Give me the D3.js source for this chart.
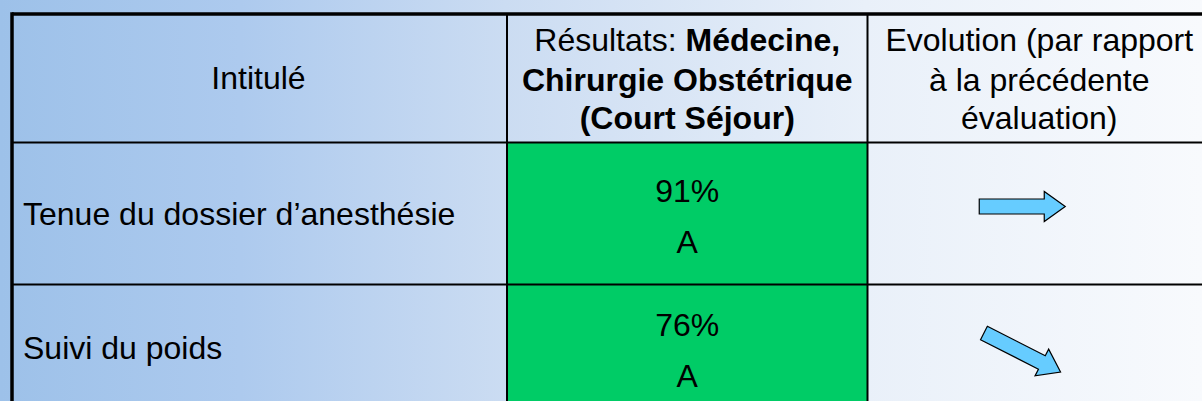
<!DOCTYPE html>
<html>
<head>
<meta charset="utf-8">
<script src="https://cdn.jsdelivr.net/npm/d3@7"></script>
<style>
html,body{margin:0;padding:0;overflow:hidden;background:#fff;}
svg{display:block;}
</style>
</head>
<body>
<script>
// ---- data ----
const headerIntitule = "Intitulé";
const headerResults = [[["Résultats: ", false], ["Médecine,", true]], [["Chirurgie Obstétrique", true]], [["(Court Séjour)", true]]];
const headerEvolution = ["Evolution (par rapport", "à la précédente", "évaluation)"];
const indicators = ["Tenue du dossier d’anesthésie", "Suivi du poids"];
const scores = [91, 76];
const grades = ["A", "A"];
const trendAngles = [0, 27]; // degrees: 0 = stable, positive = downward
const rowHeights = [142, 126];

// ---- layout ----
const W = 1202, H = 401;
const font = "'Liberation Sans', Arial, sans-serif";
const colEdges = [12, 507, 867.5, 1211];
const headerTop = 14, headerBottom = 142.5;

const svg = d3.select("body").append("svg").attr("width", W).attr("height", H);
const defs = svg.append("defs");
const grad = defs.append("linearGradient").attr("id", "bg").attr("x1", 0).attr("x2", 1).attr("y1", 0).attr("y2", 0);
[[0, "#9dc1e9"], [0.2, "#adcaee"], [0.42, "#cbdcf2"], [0.72, "#e9f0f9"], [1, "#f8fafd"]]
  .forEach(([o, c]) => grad.append("stop").attr("offset", o).attr("stop-color", c));
svg.append("rect").attr("width", W).attr("height", H).attr("fill", "url(#bg)");

// row scale (cumulative)
const rowTops = [headerBottom];
rowHeights.forEach((h, i) => rowTops.push(rowTops[i] + h));
const y = i => rowTops[i];
const x = d3.scaleOrdinal().domain([0, 1, 2, 3]).range(colEdges);
const colCenter = c => (x(c) + x(c + 1)) / 2;

// green result cells
svg.selectAll("rect.cell").data(scores).join("rect")
  .attr("class", "cell")
  .attr("x", x(1)).attr("y", (d, i) => y(i))
  .attr("width", x(2) - x(1)).attr("height", (d, i) => rowHeights[i])
  .attr("fill", "#00cc66");

// grid lines
const g = svg.append("g").attr("stroke", "#000").attr("fill", "none");
[1, 2].forEach(c => g.append("line").attr("x1", x(c)).attr("x2", x(c)).attr("y1", headerTop).attr("y2", y(rowHeights.length)).attr("stroke-width", 2));
for (let i = 0; i <= rowHeights.length; i++) {
  if (i === 0 || i < rowHeights.length) g.append("line").attr("x1", x(0)).attr("x2", x(3)).attr("y1", y(i)).attr("y2", y(i)).attr("stroke-width", 2);
}
g.append("line").attr("x1", x(0)).attr("x2", x(3)).attr("y1", headerTop).attr("y2", headerTop).attr("stroke-width", 3.5);
g.append("line").attr("x1", x(0)).attr("x2", x(0)).attr("y1", headerTop - 1.75).attr("y2", y(rowHeights.length)).attr("stroke-width", 3.5);

// header texts
const txt = svg.append("g").attr("font-family", font).attr("font-size", 32).attr("fill", "#000");
txt.append("text").attr("x", colCenter(0) - 1).attr("y", 89).attr("text-anchor", "middle").text(headerIntitule);
const hBase = [51, 90.5, 129];
headerResults.forEach((line, li) => {
  const t = txt.append("text").attr("x", colCenter(1)).attr("y", hBase[li]).attr("text-anchor", "middle");
  line.forEach(([s, b]) => t.append("tspan").attr("font-weight", b ? "bold" : "normal").text(s));
});
headerEvolution.forEach((s, li) => {
  txt.append("text").attr("x", colCenter(2)).attr("y", hBase[li]).attr("text-anchor", "middle").text(s);
});

// rows
indicators.forEach((name, i) => {
  const cy = y(i) + rowHeights[i] / 2;
  txt.append("text").attr("x", 23).attr("y", cy + 11.5).text(name);
  txt.append("text").attr("x", colCenter(1)).attr("y", cy - 12).attr("text-anchor", "middle").text(scores[i] + "%");
  txt.append("text").attr("x", colCenter(1)).attr("y", cy + 39.5).attr("text-anchor", "middle").text(grades[i]);
});

// arrows
const arrowPath = "M-43,-7.5 L22,-7.5 L22,-15 L43,0 L22,15 L22,7.5 L-43,7.5 Z";
svg.selectAll("path.arrow").data(trendAngles).join("path")
  .attr("class", "arrow")
  .attr("d", arrowPath)
  .attr("transform", (a, i) => `translate(${colCenter(2) - 17},${y(i) + 64 + (a ? 4 : 0)}) rotate(${a})`)
  .attr("fill", "#66ccff").attr("stroke", "#000").attr("stroke-width", 1.2).attr("stroke-linejoin", "miter");
</script>
</body>
</html>
